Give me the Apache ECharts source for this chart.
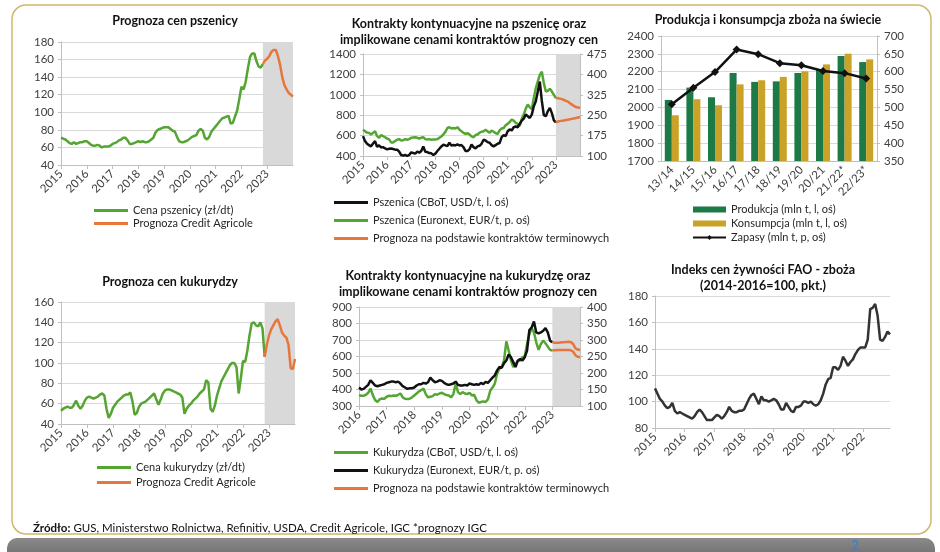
<!DOCTYPE html>
<html>
<head>
<meta charset="utf-8">
<title>Zboża - prognozy cen</title>
<script src="https://cdn.jsdelivr.net/npm/echarts@6/dist/echarts.min.js"></script>
<style>
html, body { margin: 0; padding: 0; background: #fff; }
#chart { width: 940px; height: 552px; }
</style>
</head>
<body>
<div id="chart"></div>
<script>
// monthly values, index 0 = Jan 2015 (panels 1, 2, 4, 6), Jan 2016 (panel 5)
var wheatPrice = [71,70,69,67,65,64,66,64,65,66,66,67,
  67,65,63,62,62,63,62,60,61,61,61,62,
  64,65,66,68,69,71,71,68,64,64,65,66,
  67,66,67,66,66,67,69,71,77,80,81,82,
  83,83,83,81,79,78,72,67,66,66,67,68,
  70,72,73,74,79,81,79,71,69,72,78,81,
  84,87,90,93,94,95,96,87,88,95,102,115,
  129,126,135,150,163,167,167,158,152,151,155];
var wheatForecast = [155,159,161,164,169,171,171,164,154,140,131,126,122,120,118]; // from month 94

var cbotWheat = [595,546,520,507,494,523,546,490,504,484,487,474,
  465,471,474,468,462,462,442,410,403,410,400,410,
  436,429,423,442,432,449,494,442,439,429,426,410,
  423,449,471,494,510,504,497,530,504,507,504,513,
  504,507,487,449,449,465,513,487,474,494,500,520,
  559,552,536,530,507,494,507,520,527,585,605,595,
  643,660,650,682,689,682,715,747,767,806,790,773,
  806,887,936,1033,1130,940,800,790,840,870,820,750,
  730];
var euronextWheat = [197,191,186,185,179,185,191,173,167,177,173,169,
  164,161,150,150,155,160,162,157,158,162,160,162,
  167,168,169,167,164,167,169,162,161,162,160,161,
  161,162,167,172,179,189,203,206,201,203,201,206,
  197,191,185,181,184,179,172,169,177,179,186,189,
  191,196,191,185,194,189,184,181,194,201,203,213,
  218,225,234,230,222,218,211,237,252,274,289,279,
  272,313,350,374,398,410,368,337,340,347,337,325,
  313];
var cbotWheatFc = [730,738,742,745,748,752,756,760,764,768,772,777,782];     // from month 96
var euronextWheatFc = [313,312,311,309,306,303,300,294,289,284,280,278,277]; // from month 96

var seasons = ['13/14','14/15','15/16','16/17','17/18','18/19','19/20','20/21','21/22*','22/23*'];
var production = [2042,2111,2057,2193,2143,2146,2193,2213,2288,2254];
var consumption = [1956,2046,2012,2129,2152,2171,2202,2241,2301,2269];
var stocks = [509,555,599,662,649,624,618,602,596,581];

var cornPrice = [53,55,56,57,56,56,59,63,58,55,58,63,
  66,67,66,65,66,67,69,70,68,55,46,50,
  56,59,62,64,66,68,69,69,71,62,49,51,
  57,60,61,62,64,66,68,70,64,59,64,70,
  73,74,74,73,72,71,70,69,66,50,55,58,
  60,63,65,67,70,72,74,83,81,55,52,58,
  68,75,82,86,90,94,98,100,100,96,70,85,
  102,101,112,127,139,140,137,136,140,134,106];
var cornForecast = [106,118,127,133,137,141,143,137,130,127,125,118,95,94,104]; // from month 94

var cbotCorn = [366,362,362,368,380,406,366,336,324,340,346,344,
  356,362,360,364,362,368,376,352,344,342,344,352,
  364,376,388,396,406,372,352,356,360,372,368,376,
  380,372,366,364,352,372,436,384,372,384,376,372,
  380,364,368,336,320,324,328,324,340,392,412,436,
  496,526,536,576,692,636,576,536,556,572,576,596,
  600,676,736,772,746,686,640,676,696,680,660,640,
  636];
var euronextCorn = [156,150,152,158,164,178,170,162,160,162,164,166,
  170,172,174,174,172,174,168,160,156,152,154,154,
  156,162,166,166,170,168,172,186,178,172,174,178,
  176,170,166,164,166,168,174,164,162,162,164,162,
  168,166,164,166,164,170,166,173,170,178,186,193,
  208,218,216,230,238,256,248,233,218,238,242,238,
  248,268,330,338,356,323,320,323,328,336,323,298,
  293];
var cbotCornFc = [636,638,640,640,640,640,640,640,638,630,608,598,596];     // from month 84
var euronextCornFc = [293,292,292,292,293,293,294,295,294,288,275,271,270]; // from month 84

var faoIndex = [110,106,102,100,97,95,96,99,93,91,92,91,
  90,89,88,87,89,92,94,92,89,86,86,86,
  88,90,89,87,89,92,96,93,92,92,93,93,
  94,98,102,105,106,102,98,104,101,101,100,101,
  102,101,98,94,94,99,96,93,92,96,96,97,
  100,100,99,100,98,97,98,101,106,113,117,118,
  126,126,124,127,134,131,127,130,132,136,139,141,
  141,141,147,170,171,174,165,147,146,149,153,151];

var GREEN = '#55a533', ORANGE = '#e8763a', BLACK = '#111111', SHADE = '#d9d9d9';
var FONT = 'Lato';

function pairs(start, arr) {
  return arr.map(function (v, i) { return [start + i, v]; });
}
function line(name, color, data, xi, yi, extra) {
  var s = {
    name: name, type: 'line', xAxisIndex: xi, yAxisIndex: yi, data: data,
    symbol: 'none', lineStyle: { color: color, width: 2.5 }, itemStyle: { color: color }
  };
  for (var k in extra) s[k] = extra[k];
  return s;
}
function shade(from, to) {
  return { silent: true, itemStyle: { color: SHADE }, data: [[{ xAxis: from }, { xAxis: to }]] };
}
var lbl = { fontFamily: FONT, fontSize: 11.5, color: '#404040' };
function yAx(grid, min, max, step, pos) {
  return {
    type: 'value', gridIndex: grid, min: min, max: max, interval: step, position: pos || 'left',
    axisLine: { show: true, lineStyle: { color: '#bfbfbf' } },
    axisTick: { show: true, length: 3, lineStyle: { color: '#bfbfbf' } },
    splitLine: { show: pos !== 'right', lineStyle: { color: '#d9d9d9', width: 1.2 } },
    axisLabel: Object.assign({ margin: 7, formatter: function (v) { return String(v); } }, lbl)
  };
}
function xYears(grid, first, max) {
  return {
    type: 'value', gridIndex: grid, min: 0, max: max, interval: 12,
    axisLine: { lineStyle: { color: '#bfbfbf' } },
    axisTick: { length: 4, lineStyle: { color: '#bfbfbf' } },
    splitLine: { show: false },
    axisLabel: Object.assign({
      rotate: 45, margin: 7, showMaxLabel: false,
      formatter: function (v) { return v % 12 === 0 ? String(first + v / 12) : ''; }
    }, lbl)
  };
}
function legend(names, left, top, gap, icon) {
  return {
    orient: 'vertical', left: left, top: top, itemGap: gap, itemWidth: 34, itemHeight: 3,
    icon: icon, selectedMode: false, padding: 0,
    data: names, textStyle: { fontFamily: FONT, fontSize: 11, color: '#262626', lineHeight: 13 }
  };
}
function title(text, x, y) {
  return {
    type: 'text', x: x, y: y,
    style: { text: text, font: 'bold 12.5px ' + FONT, fill: '#111', textAlign: 'center', textVerticalAlign: 'middle', lineHeight: 16 }
  };
}

var chart = echarts.init(document.getElementById('chart'));
chart.setOption({
  backgroundColor: '#fff',
  animation: false,
  grid: [
    { left: 61, top: 42, width: 232, height: 123 },
    { left: 363, top: 54, width: 217, height: 102 },
    { left: 661, top: 36, width: 216, height: 125 },
    { left: 61, top: 302, width: 234, height: 122 },
    { left: 359, top: 307, width: 221, height: 99 },
    { left: 655, top: 296, width: 235, height: 132 }
  ],
  xAxis: [
    xYears(0, 2015, 108),
    xYears(1, 2015, 108),
    {
      type: 'category', gridIndex: 2, data: seasons,
      axisLine: { lineStyle: { color: '#bfbfbf' } },
      axisTick: { length: 4, lineStyle: { color: '#bfbfbf' } },
      axisLabel: Object.assign({ rotate: 45, margin: 7, interval: 0 }, lbl)
    },
    xYears(3, 2015, 108),
    xYears(4, 2016, 96),
    xYears(5, 2015, 95)
  ],
  yAxis: [
    yAx(0, 40, 180, 20),
    yAx(1, 400, 1400, 200),
    yAx(1, 100, 475, 75, 'right'),
    yAx(2, 1700, 2400, 100),
    yAx(2, 350, 700, 50, 'right'),
    yAx(3, 40, 160, 20),
    yAx(4, 300, 900, 100),
    yAx(4, 100, 400, 50, 'right'),
    yAx(5, 80, 180, 20)
  ],
  legend: [
    legend(['Cena pszenicy (zł/dt)', 'Prognoza Credit Agricole'], 94, 204, 0, 'rect'),
    legend(['Pszenica (CBoT, USD/t, l. oś)', 'Pszenica (Euronext, EUR/t, p. oś)',
      'Prognoza na podstawie kontraktów terminowych'], 334, 196, 5, 'rect'),
    {
      orient: 'vertical', left: 692, top: 203, itemGap: 1, itemWidth: 33, itemHeight: 6,
      selectedMode: false, padding: 0,
      data: [{ name: 'Produkcja (mln t, l, oś)', icon: 'rect' }, { name: 'Konsumpcja (mln t, l, oś)', icon: 'rect' },
        { name: 'Zapasy (mln t, p, oś)' }],
      textStyle: { fontFamily: FONT, fontSize: 11, color: '#262626', lineHeight: 13 }
    },
    legend(['Cena kukurydzy (zł/dt)', 'Prognoza Credit Agricole'], 97, 461, 2, 'rect'),
    legend(['Kukurydza (CBoT, USD/t, l. oś)', 'Kukurydza (Euronext, EUR/t, p. oś)',
      'Prognoza na podstawie kontraktów terminowych'], 334, 446, 5, 'rect')
  ],
  series: [
    // panel 1
    line('Cena pszenicy (zł/dt)', GREEN, pairs(0, wheatPrice), 0, 0, { markArea: shade(94, 108) }),
    line('Prognoza Credit Agricole', ORANGE, pairs(94, wheatForecast), 0, 0),
    // panel 2
    line('Pszenica (Euronext, EUR/t, p. oś)', GREEN, pairs(0, euronextWheat), 1, 2, { markArea: shade(96, 108) }),
    line('Pszenica (CBoT, USD/t, l. oś)', BLACK, pairs(0, cbotWheat), 1, 1),
    line('Prognoza na podstawie kontraktów terminowych', ORANGE, pairs(96, cbotWheatFc), 1, 1),
    line('Prognoza na podstawie kontraktów terminowych', ORANGE, pairs(96, euronextWheatFc), 1, 2),
    // panel 3
    { name: 'Produkcja (mln t, l, oś)', type: 'bar', xAxisIndex: 2, yAxisIndex: 3, data: production,
      barWidth: 7, barGap: '0%', itemStyle: { color: '#1d7a46' } },
    { name: 'Konsumpcja (mln t, l, oś)', type: 'bar', xAxisIndex: 2, yAxisIndex: 3, data: consumption,
      barWidth: 7, barGap: '0%', itemStyle: { color: '#c9a227' } },
    { name: 'Zapasy (mln t, p, oś)', type: 'line', xAxisIndex: 2, yAxisIndex: 4, data: stocks,
      symbol: 'diamond', symbolSize: 8, lineStyle: { color: BLACK, width: 2.5 }, itemStyle: { color: BLACK } },
    // panel 4
    line('Cena kukurydzy (zł/dt)', GREEN, pairs(0, cornPrice), 3, 5, { markArea: shade(94, 108) }),
    line('Prognoza Credit Agricole', ORANGE, pairs(94, cornForecast), 3, 5),
    // panel 5
    line('Kukurydza (CBoT, USD/t, l. oś)', GREEN, pairs(0, cbotCorn), 4, 6, { markArea: shade(84, 96) }),
    line('Kukurydza (Euronext, EUR/t, p. oś)', BLACK, pairs(0, euronextCorn), 4, 7),
    line('Prognoza na podstawie kontraktów terminowych', ORANGE, pairs(84, cbotCornFc), 4, 6),
    line('Prognoza na podstawie kontraktów terminowych', ORANGE, pairs(84, euronextCornFc), 4, 7),
    // panel 6
    line('Indeks FAO - zboża', '#333333', pairs(0, faoIndex), 5, 8)
  ],
  graphic: [
    { type: 'rect', z: -10, shape: { x: 12, y: 5, width: 919, height: 529, r: 14 },
      style: { fill: 'none', stroke: '#cdb96a', lineWidth: 1.5 } },
    { type: 'rect', z: -10, shape: { x: 7, y: 538, width: 928, height: 30, r: [10, 10, 0, 0] },
      style: { fill: new echarts.graphic.LinearGradient(0, 0, 0, 1, [
        { offset: 0, color: '#8a8a8a' }, { offset: 1, color: '#5f5f5f' }]) } },
    { type: 'text', x: 855, y: 546, style: { text: '2', font: 'bold 13px ' + FONT, fill: '#3f7fd0',
      textAlign: 'center', textVerticalAlign: 'middle' } },
    { type: 'text', x: 33, y: 528, style: {
      text: '{b|Źródło:} GUS, Ministerstwo Rolnictwa, Refinitiv, USDA, Credit Agricole, IGC *prognozy IGC',
      font: '11.5px ' + FONT, fill: '#111', textVerticalAlign: 'middle',
      rich: { b: { fontWeight: 'bold', fontFamily: FONT, fontSize: 11.5 } } } },
    title('Prognoza cen pszenicy', 175, 21),
    title('Kontrakty kontynuacyjne na pszenicę oraz\nimplikowane cenami kontraktów prognozy cen', 469, 32),
    title('Produkcja i konsumpcja zboża na świecie', 768, 20),
    title('Prognoza cen kukurydzy', 170, 282),
    title('Kontrakty kontynuacyjne na kukurydzę oraz\nimplikowane cenami kontraktów prognozy cen', 468, 284),
    title('Indeks cen żywności FAO - zboża\n(2014-2016=100, pkt.)', 763, 278)
  ]
});
</script>
</body>
</html>
